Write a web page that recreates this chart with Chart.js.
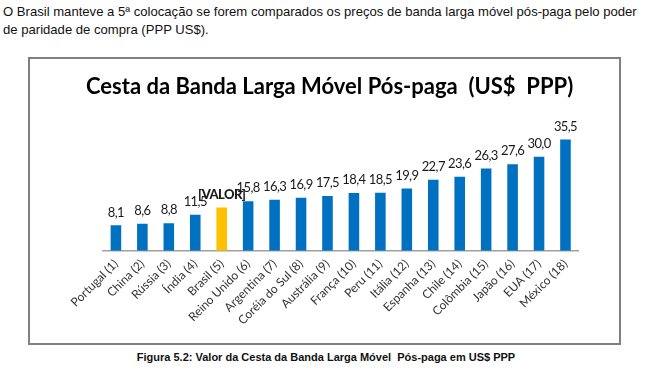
<!DOCTYPE html>
<html>
<head>
<meta charset="utf-8">
<script src="https://cdn.jsdelivr.net/npm/chart.js@4.4.1/dist/chart.umd.min.js"></script>
<style>
  body { margin: 0; background: #fff; width: 652px; height: 386px; position: relative; overflow: hidden; }
  #intro { position: absolute; left: 3px; top: 3px; font-family: "Liberation Sans", Arial, sans-serif; font-size: 13.1px; line-height: 18px; color: #111; white-space: nowrap; }
  #frame { position: absolute; left: 28px; top: 57px; width: 589px; height: 284px; border: 2px solid #808080; }
  #title { position: absolute; left: 86px; top: 72px; font-family: Lato, sans-serif; font-weight: bold; font-size: 22px; line-height: 28px; color: #000; white-space: pre; }
  #caption { position: absolute; left: 0; width: 652px; top: 351px; text-align: center; font-family: "Liberation Sans Narrow", "Liberation Sans", Arial, sans-serif; font-weight: bold; font-size: 11px; color: #111; }
</style>
</head>
<body>
<div id="intro">O Brasil manteve a 5ª colocação se forem comparados os preços de banda larga móvel pós-paga pelo poder<br>de paridade de compra (PPP US$).</div>
<div id="frame"><canvas id="bandaChart" width="589" height="284"></canvas></div>
<div id="title">Cesta da Banda Larga Móvel Pós-paga  (US$  PPP)</div>
<div id="caption">Figura 5.2: Valor da Cesta da Banda Larga Móvel&nbsp; Pós-paga em US$ PPP</div>
<script>
// Países e valores (US$ PPP)
const countries = ['Portugal (1)', 'China (2)', 'Rússia (3)', 'Índia (4)', 'Brasil (5)', 'Reino Unido (6)',
    'Argentina (7)', 'Coréia do Sul (8)', 'Austrália (9)', 'França (10)', 'Peru (11)', 'Itália (12)',
    'Espanha (13)', 'Chile (14)', 'Colômbia (15)', 'Japão (16)', 'EUA (17)', 'México (18)'];
const values = [8.1, 8.6, 8.8, 11.5, 13.8, 15.8, 16.3, 16.9, 17.5, 18.4, 18.5, 19.9, 22.7, 23.6, 26.3, 27.6, 30.0, 35.5];
const valueLabels = ['8,1', '8,6', '8,8', '11,5', '[VALOR]', '15,8', '16,3', '16,9', '17,5', '18,4', '18,5', '19,9',
    '22,7', '23,6', '26,3', '27,6', '30,0', '35,5'];
const highlightIndex = 4;

const barColors = values.map((v, i) => i === highlightIndex ? '#FFC000' : '#0070C0');

// rótulos de valor acima das barras
const valueLabelPlugin = {
    id: 'valueLabels',
    afterDatasetsDraw(chart) {
        const ctx = chart.ctx;
        const meta = chart.getDatasetMeta(0);
        ctx.save();
        ctx.textAlign = 'center';
        ctx.textBaseline = 'middle';
        ctx.fillStyle = '#1a1a1a';
        ctx.letterSpacing = '-0.6px';
        meta.data.forEach((bar, i) => {
            ctx.font = (i === highlightIndex ? '900 ' : '') + '13px Lato, sans-serif';
            ctx.fillText(valueLabels[i], bar.x, bar.y - 13);
        });
        ctx.restore();
    }
};

new Chart(document.getElementById('bandaChart'), {
    type: 'bar',
    data: {
        labels: countries,
        datasets: [{
            data: values,
            backgroundColor: barColors,
            barPercentage: 0.4,
            categoryPercentage: 1.0
        }]
    },
    options: {
        responsive: false,
        animation: false,
        layout: { padding: { left: 72.7, right: 40.3, top: 66.5, bottom: 0 } },
        plugins: {
            legend: { display: false },
            tooltip: { enabled: false },
            title: { display: false }
        },
        scales: {
            x: {
                grid: { display: false, drawTicks: false },
                border: { display: true, color: '#a0a0a0', width: 1.5 },
                ticks: {
                    color: '#333',
                    font: { family: 'Lato', size: 12 },
                    minRotation: 45,
                    maxRotation: 45,
                    padding: 6,
                    autoSkip: false
                },
                afterFit(scale) { scale.height = 92.3; }
            },
            y: {
                display: false,
                min: 0,
                max: 40
            }
        }
    },
    plugins: [valueLabelPlugin]
});
</script>
</body>
</html>
